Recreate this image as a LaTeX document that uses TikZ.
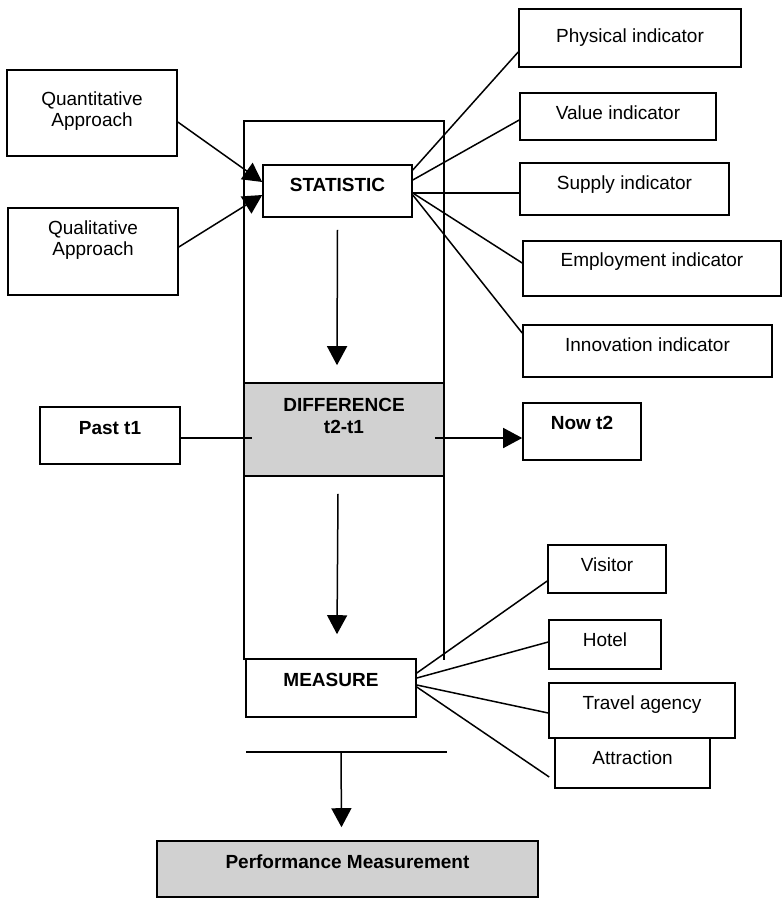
\documentclass[tikz,border=0pt]{standalone}
\usepackage{fontspec}
\setmainfont{Liberation Sans}
\usetikzlibrary{positioning,arrows.meta}

\begin{document}
\begin{tikzpicture}[x=1pt,y=-1pt,line width=1.5pt,
	every node/.style={font=\fontsize{19}{21}\selectfont},
	box/.style={draw,line width=1.6pt,inner sep=2pt},
	tx/.style={text height=13.5pt,text depth=#1},
	bf/.style={font=\fontsize{19}{22}\selectfont\bfseries},
	shade/.style={fill=black!18},
	arr/.style={-{Triangle[length=19pt,width=20pt]}}]

		\useasboundingbox (0,0) rectangle (782,898);

		%column
		\draw (244,660) |- (444,121) -- (444,660);

		%left boxes
		\node[box,minimum width=170pt,minimum height=86pt,label={[align=center,yshift=1.7pt]center:Quantitative\\Approach}] (quant) at (92,113) {};
		\node[box,minimum width=170pt,minimum height=87pt,label={[align=center,yshift=11.2pt]center:Qualitative\\Approach}] (qual) at (93,251.5) {};
		\node[box,bf,tx=15pt,minimum width=140pt,minimum height=57pt] (past) at (110,435.5) {Past t1};

		%middle boxes
		\node[box,bf,tx=12pt,fill=white,minimum width=149pt,minimum height=52pt] (stat) at (337.5,191) {STATISTIC};
		\node[box,shade,minimum width=200pt,minimum height=93pt,label={[bf,align=center,yshift=13.5pt]center:DIFFERENCE\\t2-t1}] (diff) at (344,429.5) {};
		\node[box,bf,tx=16pt,fill=white,minimum width=170pt,minimum height=58pt] (meas) at (331,688) {MEASURE};
		\node[box,bf,shade,tx=14pt,minimum width=381pt,minimum height=56pt] (perf) at (347.5,869) {Performance Measurement};

		%right boxes
		\node[box,tx=4pt,minimum width=222pt,minimum height=58pt] (phys) at (630,38) {Physical indicator};
		\node[box,tx=7pt,minimum width=196pt,minimum height=47pt] (val) at (618,116.5) {Value indicator};
		\node[box,tx=12pt,minimum width=209pt,minimum height=52pt] (sup) at (624.5,189) {Supply indicator};
		\node[box,tx=17pt,minimum width=258pt,minimum height=55pt] (emp) at (652,268.5) {Employment indicator};
		\node[box,tx=12pt,minimum width=249pt,minimum height=52pt] (inn) at (647.5,351) {Innovation indicator};
		\node[box,bf,tx=17pt,minimum width=118pt,minimum height=57pt] (now) at (582,431.5) {Now t2};
		\node[box,tx=8pt,minimum width=118pt,minimum height=48pt] (vis) at (607,569) {Visitor};
		\node[box,tx=9pt,minimum width=112pt,minimum height=49pt] (hot) at (605,644.5) {Hotel};
		\node[box,tx=15pt,minimum width=186pt,minimum height=55pt] (trav) at (642,710.5) {Travel agency};
		\node[box,tx=10pt,minimum width=155pt,minimum height=50pt] (attr) at (632.5,763) {Attraction};

		%edges
		\draw[arr] ([yshift=-9pt]quant.east) -- ([yshift=9pt]stat.west);
		\draw[arr] ([yshift=4.5pt]qual.east) -- ([yshift=-4pt]stat.west);
		\draw ([yshift=21pt]stat.east) -- ([yshift=-14pt]phys.west);
		\draw ([yshift=11pt]stat.east) -- ([yshift=-3.5pt]val.west);
		\draw ([yshift=-2pt]stat.east) -- ([yshift=-4pt]sup.west);
		\draw ([yshift=-2pt]stat.east) -- ([yshift=5.5pt]emp.west);
		\draw ([yshift=-4pt]stat.east) -- ([yshift=18pt]inn.west);
		\draw[arr] ([yshift=-12pt]stat.south) -- ([xshift=-7pt,yshift=17pt]diff.north);
		\draw ([yshift=-2.5pt]past.east) -- ([xshift=9pt,yshift=-8.5pt]diff.west);
		\draw[arr] ([xshift=-10pt,yshift=-8.5pt]diff.east) -- ([yshift=-6.5pt]now.west);
		\draw[arr] ([xshift=-6pt,yshift=-17pt]diff.south) -- ([xshift=6pt,yshift=24pt]meas.north);
		\draw ([yshift=15pt]meas.east) -- ([yshift=-12pt]vis.west);
		\draw ([yshift=10pt]meas.east) -- ([yshift=2.5pt]hot.west);
		\draw ([yshift=3pt]meas.east) -- ([yshift=-2.5pt]trav.west);
		\draw ([yshift=1pt]meas.east) -- ([xshift=-5pt,yshift=-14pt]attr.west);

		%bottom
		\draw (246,752) -- (447,752);
		\coordinate (bar) at (341,752);
		\draw[arr] (bar) -- ([xshift=-6pt,yshift=13pt]perf.north);

\end{tikzpicture}
\end{document}
